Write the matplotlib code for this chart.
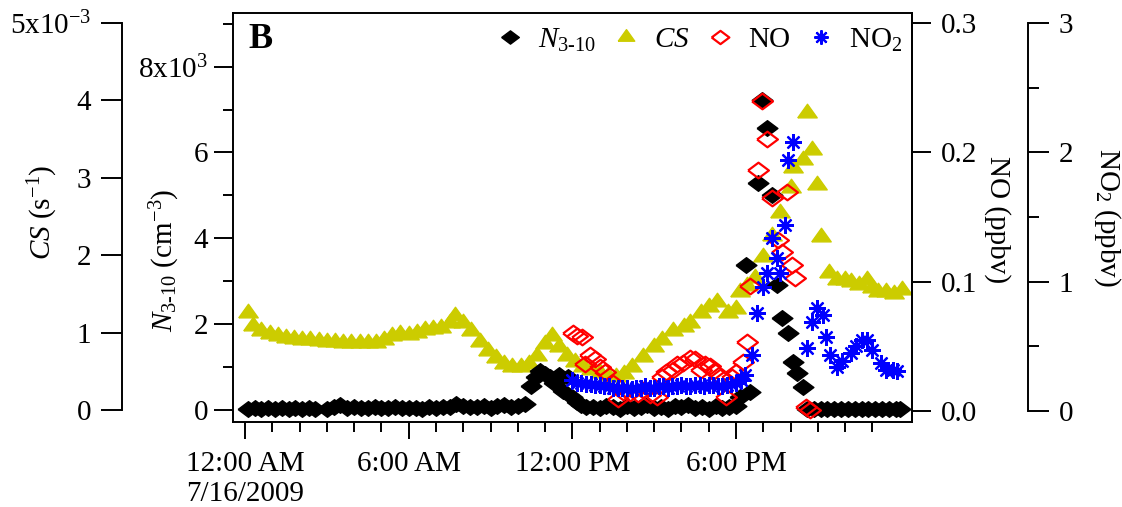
import matplotlib
matplotlib.use('Agg')
import matplotlib.pyplot as plt

plt.rcParams['font.family'] = ['Liberation Serif', 'DejaVu Serif']
plt.rcParams['mathtext.fontset'] = 'custom'
plt.rcParams['mathtext.rm'] = 'Liberation Serif'
plt.rcParams['mathtext.it'] = 'Liberation Serif:italic'
plt.rcParams['mathtext.bf'] = 'Liberation Serif:bold'

# hours after 12:00 AM 7/16/2009
cs_hours = [0.1, 0.3, 0.6, 0.9, 1.2, 1.5, 1.8, 2.1, 2.4, 2.7, 3.0, 3.3, 3.6, 3.9,
            4.2, 4.5, 4.8, 5.1, 5.4, 5.7, 6.0, 6.3, 6.6, 6.9, 7.2, 7.5, 7.7, 8.0,
            8.3, 8.6, 8.9, 9.2, 9.5, 9.8, 10.1, 10.4, 10.7, 11.0, 11.25, 11.5,
            11.8, 12.1, 12.4, 12.7, 13.0, 13.3, 13.6, 13.9, 14.2, 14.6, 15.0,
            15.3, 15.7, 16.1, 16.3, 16.7, 17.0, 17.3, 17.7, 18.0, 18.15, 18.4,
            18.7, 19.0, 19.3, 19.6, 20.0, 20.1, 20.45, 20.6, 20.8, 20.97, 21.1,
            21.4, 21.7, 22.0, 22.2, 22.5, 22.8, 23.0, 23.2, 23.5, 23.8, 24.1]
cs_vals = [1.25, 1.08, 1.02, 0.98, 0.95, 0.93, 0.92, 0.91, 0.90, 0.89, 0.88, 0.88,
           0.87, 0.87, 0.86, 0.86, 0.87, 0.91, 0.95, 0.98, 0.97, 0.99, 1.03, 1.05,
           1.06, 1.12, 1.22, 1.12, 1.02, 0.88, 0.76, 0.67, 0.60, 0.55, 0.55, 0.60,
           0.70, 0.85, 0.96, 0.82, 0.70, 0.62, 0.56, 0.52, 0.48, 0.44, 0.43, 0.47,
           0.55, 0.68, 0.81, 0.90, 1.02, 1.07, 1.12, 1.25, 1.33, 1.40, 1.25, 1.30,
           1.52, 1.60, 1.70, 1.98, 2.25, 2.55, 2.87, 3.13, 3.23, 3.84, 3.36, 2.91,
           2.24, 1.77, 1.68, 1.68, 1.66, 1.62, 1.68, 1.58, 1.52, 1.52, 1.50, 1.55]  # x1e-3 s^-1

n_hours = [0.1, 0.35, 0.6, 0.85, 1.1, 1.35, 1.6, 1.85, 2.1, 2.35, 2.55,
           3.0, 3.25, 3.5, 3.75, 4.0, 4.25, 4.5, 4.75, 5.0, 5.25, 5.5, 5.75,
           6.0, 6.25, 6.5, 6.75, 7.0, 7.25, 7.5, 7.75, 8.0, 8.25, 8.5, 8.75,
           9.0, 9.25, 9.5, 9.75, 10.0, 10.25, 10.5, 10.67, 10.83, 11.0, 11.17,
           11.33, 11.5, 11.67, 11.83, 12.0, 12.17, 12.33, 12.5, 12.75, 13.0,
           13.25, 13.5, 13.75, 14.0, 14.25, 14.5, 14.75, 15.0, 15.25, 15.5,
           15.75, 16.0, 16.25, 16.5, 16.75, 17.0, 17.25, 17.5, 17.75, 18.0,
           18.15, 18.35, 18.5, 18.8, 18.95, 19.15, 19.3, 19.5, 19.7, 19.9, 20.1,
           20.25, 20.45, 20.6, 20.85, 21.1, 21.35, 21.6, 21.85, 22.1, 22.35,
           22.6, 22.85, 23.1, 23.35, 23.6, 23.85, 24.0]
n_vals = [0.03, 0.05, 0.02, 0.04, 0.03, 0.05, 0.03, 0.04, 0.02, 0.05, 0.03,
          0.02, 0.06, 0.12, 0.05, 0.06, 0.04, 0.05, 0.07, 0.05, 0.04, 0.06, 0.05,
          0.04, 0.05, 0.03, 0.06, 0.04, 0.08, 0.07, 0.13, 0.10, 0.08, 0.06, 0.10,
          0.05, 0.09, 0.12, 0.06, 0.10, 0.14, 0.55, 0.78, 0.90, 0.85, 0.78,
          0.62, 0.82, 0.45, 0.78, 0.30, 0.18, 0.12, 0.06, 0.08, 0.04,
          0.10, 0.06, 0.02, 0.09, 0.05, 0.07, 0.12, 0.05, 0.08, 0.03,
          0.10, 0.06, 0.12, 0.04, 0.07, 0.02, 0.09, 0.05, 0.08, 0.10,
          0.30, 3.38, 0.42, 5.29, 7.23, 6.57, 5.01, 2.91, 2.14, 1.79, 1.12,
          0.86, 0.54, 0.03, 0.02, 0.03, 0.02, 0.03, 0.02, 0.03, 0.02,
          0.03, 0.02, 0.03, 0.02, 0.03, 0.02, 0.02]  # x1e3 cm^-3

no_hours = [12.02, 12.17, 12.35, 12.46, 12.65, 12.83, 13.0, 13.2, 13.5, 13.67,
            13.85, 14.1, 14.4, 14.6, 14.85, 15.1, 15.3, 15.45, 15.7, 15.85,
            16.05, 16.3, 16.5, 16.7, 16.85, 17.05, 17.2, 17.4, 17.65, 17.85,
            18.0, 18.25, 18.4, 18.5, 18.8, 18.95, 19.15, 19.3, 19.55, 19.7,
            19.85, 20.05, 20.15, 20.55, 20.7]
no_vals = [0.060, 0.058, 0.057, 0.036, 0.043, 0.040, 0.034, 0.030, 0.022, 0.009,
           0.015, 0.014, 0.013, 0.016, 0.012, 0.011, 0.026, 0.030, 0.032, 0.036,
           0.037, 0.041, 0.040, 0.032, 0.036, 0.035, 0.031, 0.026, 0.011, 0.026,
           0.030, 0.038, 0.053, 0.097, 0.186, 0.240, 0.210, 0.165, 0.132, 0.123,
           0.169, 0.113, 0.103, 0.003, 0.001]

no2_hours = [12.0, 12.17, 12.33, 12.5, 12.67, 12.83, 13.0, 13.17, 13.33, 13.5,
             13.67, 13.83, 14.0, 14.17, 14.33, 14.5, 14.67, 14.83, 15.0, 15.17,
             15.33, 15.5, 15.67, 15.83, 16.0, 16.17, 16.33, 16.5, 16.67, 16.83,
             17.0, 17.17, 17.33, 17.5, 17.67, 17.83, 18.0, 18.17, 18.33, 18.6,
             18.77, 19.0, 19.15, 19.3, 19.5, 19.6, 19.8, 19.9, 20.1, 20.6, 20.8,
             20.97, 21.2, 21.3, 21.45, 21.7, 21.9, 22.2, 22.4, 22.6, 22.8, 23.0,
             23.3, 23.5, 23.75, 23.9]
no2_vals = [0.24, 0.22, 0.22, 0.21, 0.21, 0.20, 0.20, 0.19, 0.19, 0.18,
            0.18, 0.18, 0.18, 0.17, 0.18, 0.18, 0.19, 0.18, 0.18, 0.19,
            0.19, 0.18, 0.19, 0.19, 0.20, 0.19, 0.19, 0.20, 0.20, 0.19,
            0.20, 0.20, 0.19, 0.19, 0.20, 0.21, 0.22, 0.24, 0.28, 0.43,
            0.76, 0.96, 1.07, 1.34, 1.18, 1.07, 1.44, 1.94, 2.08, 0.49, 0.69,
            0.80, 0.74, 0.57, 0.43, 0.34, 0.39, 0.45, 0.50, 0.55, 0.55, 0.47,
            0.37, 0.32, 0.32, 0.31]

x_major = [0, 6, 12, 18]
x_labels = ['12:00 AM\n7/16/2009', '6:00 AM', '12:00 PM', '6:00 PM']

W, H = 1122, 507
FS = 21

# the original export is stretched sideways, so markers are wider than tall
WIDE_DIAMOND = [(-1, 0), (0, 0.75), (1, 0), (0, -0.75), (-1, 0)]
WIDE_TRIANGLE = [(-1, -0.45), (1, -0.45), (0, 0.95), (-1, -0.45)]


def box(x0, y0, x1, y1):
    return [x0 / W, 1 - y1 / H, (x1 - x0) / W, (y1 - y0) / H]


fig = plt.figure(figsize=(W / 100, H / 100), dpi=100)
ax = fig.add_axes(box(233, 13, 912, 422))
ax.patch.set_visible(False)
ax_cs = ax.twinx()
ax_no = ax.twinx()
ax_no2 = ax.twinx()
ax_cs.set_zorder(1)
ax.set_zorder(2)
ax_no.set_zorder(3)
ax_no2.set_zorder(4)

# CS (far left)
l_cs, = ax_cs.plot(cs_hours, [v * 1e-3 for v in cs_vals], ls='none',
                   marker=WIDE_TRIANGLE, ms=14, color='#CCCC00', mec='#CCCC00')
ax_cs.set_ylim(-0.155e-3, 5.129e-3)
for s in ['top', 'bottom', 'right']:
    ax_cs.spines[s].set_visible(False)
ax_cs.spines['left'].set_position(('axes', (122 - 233) / 679))
ax_cs.spines['left'].set_bounds(0, 5e-3)
ax_cs.spines['left'].set_linewidth(1.4)
ax_cs.yaxis.tick_left()
ax_cs.set_yticks([0, 1e-3, 2e-3, 3e-3, 4e-3, 5e-3])
ax_cs.set_yticklabels(['0', '1', '2', '3', '4', r'5x10$^{-3}$'])
ax_cs.tick_params(axis='y', direction='out', length=15, width=1.4,
                  labelsize=FS, pad=7)

# N3-10 (host, inner left)
l_n, = ax.plot(n_hours, [v * 1e3 for v in n_vals], ls='none',
               marker=WIDE_DIAMOND, ms=15, color='black')
ax.set_ylim(-280, 9250)
ax.set_yticks([0, 2000, 4000, 6000, 8000])
ax.set_yticklabels(['0', '2', '4', '6', r'8x10$^{3}$'])
ax.set_yticks([1000, 3000, 5000, 7000, 9000], minor=True)
ax.tick_params(axis='y', which='major', direction='out', length=14, width=1.4,
               labelsize=FS, pad=4)
ax.tick_params(axis='y', which='minor', direction='out', length=7, width=1.4)
for s in ax.spines.values():
    s.set_linewidth(1.4)

ax.set_xlim(-0.44, 24.45)
ax.set_xticks(x_major)
xt = ax.set_xticklabels(x_labels)
xt[0].set_multialignment('left')
ax.set_xticks([h for h in range(1, 24) if h % 6 != 0], minor=True)
ax.tick_params(axis='x', which='major', direction='out', length=12, width=1.4,
               labelsize=FS, pad=9)
ax.tick_params(axis='x', which='minor', direction='out', length=7, width=1.4)

# NO (inner right)
l_no, = ax_no.plot(no_hours, no_vals, ls='none', marker=WIDE_DIAMOND, ms=15,
                   mfc='none', mec='red', mew=1.6)
ax_no.set_ylim(-0.0085, 0.3077)
for s in ['top', 'bottom', 'left']:
    ax_no.spines[s].set_visible(False)
ax_no.spines['right'].set_linewidth(1.4)
ax_no.set_yticks([0, 0.1, 0.2, 0.3])
ax_no.set_yticklabels(['0.0', '0.1', '0.2', '0.3'])
ax_no.tick_params(axis='y', direction='out', length=14, width=1.4,
                  labelsize=FS, pad=7)

# NO2 (far right)
l_no2, = ax_no2.plot(no2_hours, no2_vals, ls='none', marker=(8, 2, 0), ms=12,
                     mec='blue', mew=1.6)
ax_no2.set_ylim(-0.085, 3.077)
for s in ['top', 'bottom', 'left']:
    ax_no2.spines[s].set_visible(False)
ax_no2.spines['right'].set_position(('axes', (1028 - 233) / 679))
ax_no2.spines['right'].set_bounds(0, 3)
ax_no2.spines['right'].set_linewidth(1.4)
ax_no2.set_yticks([0, 1, 2, 3])
ax_no2.set_yticks([0.5, 1.5, 2.5], minor=True)
ax_no2.tick_params(axis='y', which='major', direction='out', length=15,
                   width=1.4, labelsize=FS, pad=7)
ax_no2.tick_params(axis='y', which='minor', direction='out', length=8,
                   width=1.4)

# axis titles
fig.text(43 / W, 1 - 212 / H, r'$\mathit{CS}$ (s$^{-1}$)', rotation=90,
         ha='center', va='center', fontsize=FS)
fig.text(165 / W, 1 - 260 / H, r'$N_{\mathit{3\text{-}10}}$ (cm$^{-3}$)',
         rotation=90, ha='center', va='center', fontsize=FS)
fig.text(997 / W, 1 - 220 / H, 'NO (ppbv)', rotation=270,
         ha='center', va='center', fontsize=FS)
fig.text(1107 / W, 1 - 217 / H, r'NO$_2$ (ppbv)', rotation=270,
         ha='center', va='center', fontsize=FS)

ax_no2.text(0.022, 0.934, 'B', transform=ax_no2.transAxes, fontsize=26,
            fontweight='bold', ha='left', va='center')
ax_no2.legend([l_n, l_cs, l_no, l_no2],
              [r'$N_{\mathit{3\text{-}10}}$', r'$\mathit{CS}$', 'NO', r'NO$_2$'],
              loc='center right', bbox_to_anchor=(0.985, 0.934), ncol=4,
              frameon=False, fontsize=FS, borderpad=0, borderaxespad=0,
              handlelength=0.9, handletextpad=0.5, columnspacing=0.6,
              markerscale=0.85)

fig.savefig('out.png', dpi=100)
